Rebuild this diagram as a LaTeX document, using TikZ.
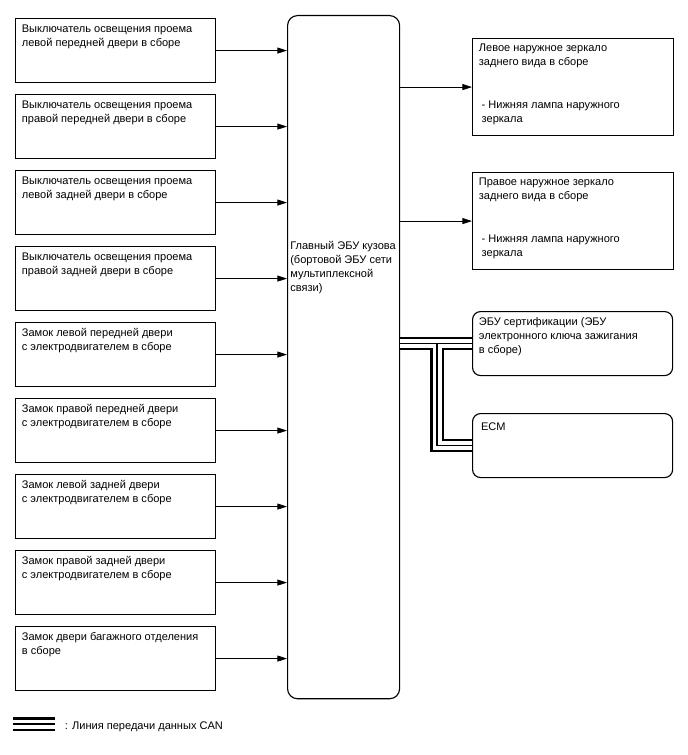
\documentclass[tikz,border=0pt]{standalone}
\usepackage{fontspec}
\setmainfont{Liberation Sans}
\usetikzlibrary{arrows.meta}

\begin{document}
\begin{tikzpicture}[x=0.025cm, y=-0.025cm,
	every node/.style={font=\fontsize{7.85}{9.9}\selectfont},
	>={Triangle[length=2.4mm,width=1.5mm]},
	unit/.style={draw, line width=0.8pt, anchor=north west, inner sep=0pt, minimum width=5cm, minimum height=1.6cm},
	txt/.style={anchor=north west, align=left, inner xsep=0.165cm, inner ysep=0.16cm},
	canouter/.style={line width=0.34cm, black},
	canwhite/.style={line width=0.225cm, white},
	caninner/.style={line width=0.04cm, black}]
	\useasboundingbox (0,0) rectangle (688,755);
	% inputs
	\node[unit, label={[txt]north west:{Выключатель освещения проема\\левой передней двери в сборе}}] (sw1) at (15,18) {};
	\node[unit, label={[txt]north west:{Выключатель освещения проема\\правой передней двери в сборе}}] (sw2) at (15,94) {};
	\node[unit, label={[txt]north west:{Выключатель освещения проема\\левой задней двери в сборе}}] (sw3) at (15,170) {};
	\node[unit, label={[txt]north west:{Выключатель освещения проема\\правой задней двери в сборе}}] (sw4) at (15,246) {};
	\node[unit, label={[txt]north west:{Замок левой передней двери\\с электродвигателем в сборе}}] (lk1) at (15,322) {};
	\node[unit, label={[txt]north west:{Замок правой передней двери\\с электродвигателем в сборе}}] (lk2) at (15,398) {};
	\node[unit, label={[txt]north west:{Замок левой задней двери\\с электродвигателем в сборе}}] (lk3) at (15,474) {};
	\node[unit, label={[txt]north west:{Замок правой задней двери\\с электродвигателем в сборе}}] (lk4) at (15,550) {};
	\node[unit, label={[txt]north west:{Замок двери багажного отделения\\в сборе}}] (lk5) at (15,626) {};
	% main ecu
	\node[unit, rounded corners=0.25cm, minimum width=2.8cm, minimum height=17.075cm,
		label={[txt, inner xsep=0.075cm, yshift=-5.5cm]north west:{Главный ЭБУ кузова\\(бортовой ЭБУ сети\\мультиплексной\\связи)}}] (ecu) at (287,15) {};
	% outputs
	\node[unit, minimum width=5.025cm, minimum height=2.425cm,
		label={[txt, inner ysep=0.14cm]north west:{Левое наружное зеркало\\заднего вида в сборе\\[21pt]\hspace*{2pt}- Нижняя лампа наружного\\\hspace*{2pt}зеркала}}] (mirl) at (472,38) {};
	\node[unit, minimum width=5.025cm, minimum height=2.425cm,
		label={[txt, inner ysep=0.14cm]north west:{Правое наружное зеркало\\заднего вида в сборе\\[21pt]\hspace*{2pt}- Нижняя лампа наружного\\\hspace*{2pt}зеркала}}] (mirr) at (472,172) {};
	\node[unit, rounded corners=0.2cm, minimum width=5cm, minimum height=1.6cm,
		label={[txt]north west:{ЭБУ сертификации (ЭБУ\\электронного ключа зажигания\\в сборе)}}] (cert) at (472,311) {};
	\node[unit, rounded corners=0.2cm, minimum width=5cm, minimum height=1.6cm,
		label={[txt, inner xsep=0.22cm, inner ysep=0.24cm]north west:{ECM}}] (ecm) at (472,413) {};

	\foreach \n in {sw1,sw2,sw3,sw4,lk1,lk2,lk3,lk4,lk5}
		\draw[->, line width=0.5pt] (\n.east) -- (\n.east -| ecu.west);
	\draw[->, line width=0.5pt] (ecu.east |- mirl.west) -- (mirl.west);
	\draw[->, line width=0.5pt] (ecu.east |- mirr.west) -- (mirr.west);

	% CAN bus
	\path (cert.west) ++(-35,0) coordinate (j);
	\coordinate (cana) at (13,724);
	\coordinate (canb) at (55,724);
	\draw[canouter] (ecu.east |- cert.west) -- (cert.west) (j) |- (ecm.west) (cana) -- (canb);
	\draw[canwhite] (ecu.east |- cert.west) -- (cert.west) (j) |- (ecm.west) (cana) -- (canb);
	\draw[caninner] (ecu.east |- cert.west) -- (cert.west) (j) |- (ecm.west) (cana) -- (canb);
	\node[anchor=west] (legend) at (60,727) {: Линия передачи данных CAN};
\end{tikzpicture}
\end{document}
